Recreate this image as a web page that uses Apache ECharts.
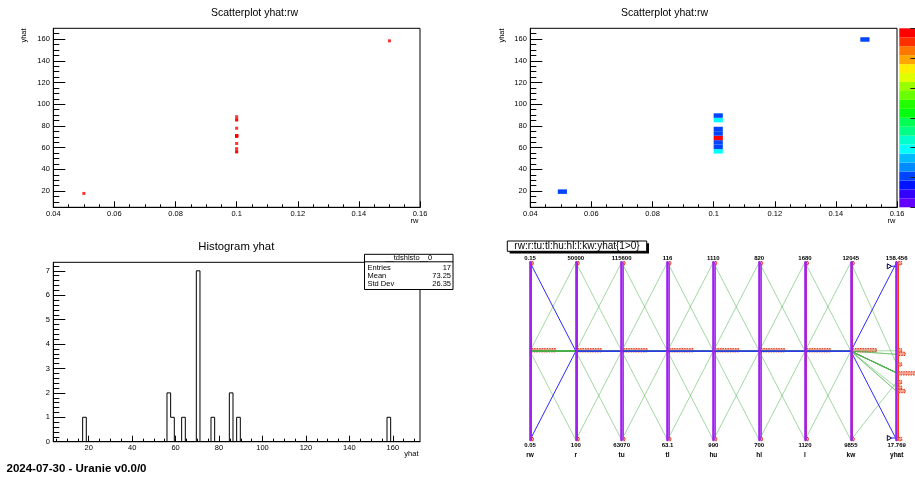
<!DOCTYPE html>
<html>
<head>
<meta charset="utf-8">
<title>Uranie plots</title>
<script src="https://cdn.jsdelivr.net/npm/echarts@6.0.0/dist/echarts.min.js"></script>
<style>
html,body{margin:0;padding:0;background:#ffffff;overflow:hidden;}
#chart{width:915px;height:485px;}
</style>
</head>
<body>
<div id="chart"></div>
<script>
// ---------------- data (one row per design point) ----------------
const varNames = ['rw', 'r', 'tu', 'tl', 'hu', 'hl', 'l', 'kw', 'yhat'];
const rw   = [0.1, 0.1, 0.1, 0.1, 0.1, 0.1, 0.1, 0.1, 0.1, 0.1, 0.1, 0.1, 0.1, 0.1, 0.1, 0.05, 0.15];
const r    = [25050, 100, 50000, 25050, 25050, 25050, 25050, 25050, 25050, 25050, 25050, 25050, 25050, 25050, 25050, 25050, 25050];
const tu   = [89335, 89335, 89335, 63070, 115600, 89335, 89335, 89335, 89335, 89335, 89335, 89335, 89335, 89335, 89335, 89335, 89335];
const tl   = [89.55, 89.55, 89.55, 89.55, 89.55, 63.1, 116, 89.55, 89.55, 89.55, 89.55, 89.55, 89.55, 89.55, 89.55, 89.55, 89.55];
const hu   = [1050, 1050, 1050, 1050, 1050, 1050, 1050, 990, 1110, 1050, 1050, 1050, 1050, 1050, 1050, 1050, 1050];
const hl   = [760, 760, 760, 760, 760, 760, 760, 760, 760, 700, 820, 760, 760, 760, 760, 760, 760];
const l    = [1400, 1400, 1400, 1400, 1400, 1400, 1400, 1400, 1400, 1400, 1400, 1120, 1680, 1400, 1400, 1400, 1400];
const kw   = [10950, 10950, 10950, 10950, 10950, 10950, 10950, 10950, 10950, 10950, 10950, 10950, 10950, 9855, 12045, 10950, 10950];
const yhat = [70.87, 71.04, 70.85, 70.87, 70.87, 70.71, 70.96, 56.2, 85.6, 85.6, 56.2, 88.47, 59.11, 63.82, 77.92, 17.769, 158.456];

// scatter plot axes
const scatXRange = [0.04, 0.16];
const scatYRange = [5, 170];
const scatXTicks = [0.04, 0.06, 0.08, 0.1, 0.12, 0.14, 0.16];
const scatYTicks = [20, 40, 60, 80, 100, 120, 140, 160];

// 2D histogram (COLZ) non-empty cells: lower-left corner and entries
const cellX     = [0.049, 0.1, 0.1, 0.1, 0.1, 0.1, 0.1, 0.1, 0.1, 0.148];
const cellY     = [17.375, 54.5, 58.625, 62.75, 66.875, 71.0, 75.125, 83.375, 87.5, 157.625];
const cellCount = [1, 2, 1, 1, 6, 1, 1, 2, 1, 1];
const cellW = 0.003, cellH = 4.125;
const zMax = 6;
const paletteColors = ['#6300ff', '#3300ff', '#0014ff', '#0044ff', '#008bff', '#00bbff', '#00fffc', '#00ffcc', '#00ff85', '#00ff55',
                       '#00ff0e', '#22ff00', '#69ff00', '#99ff00', '#e0ff00', '#ffee00', '#ffa700', '#ff7700', '#ff3000', '#ff0000'];

// 1D histogram of yhat: non-empty bins (lower edge, entries)
const histLow   = [17.21, 56.04, 57.72, 62.79, 69.54, 76.30, 84.74, 88.11, 157.33];
const histCount = [1, 2, 1, 1, 7, 1, 2, 1, 1];
const histBinWidth = 1.688;
const histRange = [3.70, 172.52];
const histYMax = 7.35;
const histXTicks = [20, 40, 60, 80, 100, 120, 140, 160];
const histYTicks = [0, 1, 2, 3, 4, 5, 6, 7];
const statsTitle = '__tdshisto__0';
const statsLabels = ['Entries', 'Mean', 'Std Dev'];
const statsValues = ['17', '73.25', '26.35'];

const parTitle = 'rw:r:tu:tl:hu:hl:l:kw:yhat{1>0}';
const footer = '2024-07-30 - Uranie v0.0/0';

// ---------------- helpers ----------------
const FONT = '"Liberation Sans", Arial, Helvetica, sans-serif';
function seq(a, b, step) { const out = []; for (let v = a; v <= b + 1e-9; v += step) out.push(+v.toFixed(6)); return out; }

const columns = [rw, r, tu, tl, hu, hl, l, kw, yhat];
const mins = columns.map(c => Math.min(...c));
const maxs = columns.map(c => Math.max(...c));
const rows = yhat.map((_, i) => columns.map(c => c[i]));

// layout
const P1  = {left: 53.3, top: 28.3, width: 366.7, height: 179};
const P2  = {left: 530.3, top: 28.3, width: 366.7, height: 179};
const PAL = {left: 899.3, top: 28.3, width: 16, height: 179};
const P3  = {left: 53.3, top: 262.3, width: 366.7, height: 179.4};
const PAR = {left: 530, top: 262.3, width: 366.7, height: 177.7};

function gridOf(p, show) {
  return {left: p.left, top: p.top, width: p.width, height: p.height, show: !!show,
          borderColor: '#000', borderWidth: 1, backgroundColor: 'transparent',
          containLabel: false, outerBoundsMode: 'none'};
}
function mainX(gi, range, ticks, name, namePad) {
  return {type: 'value', gridIndex: gi, min: range[0], max: range[1], position: 'bottom',
    axisLine: {show: true, onZero: false, lineStyle: {color: '#000', width: 1}},
    axisTick: {show: true, inside: true, length: 6, customValues: ticks, lineStyle: {color: '#000', width: 1}},
    axisLabel: {show: true, customValues: ticks, margin: 2.5, fontSize: 7.5, color: '#000', fontFamily: FONT},
    splitLine: {show: false},
    name: name, nameLocation: 'end', nameGap: -1.5, nameMoveOverlap: false,
    nameTextStyle: {fontSize: 7.5, color: '#000', fontFamily: FONT, align: 'right', verticalAlign: 'top', padding: [namePad, 0, 0, 0]}};
}
function minorX(gi, range, ticks) {
  return {type: 'value', gridIndex: gi, min: range[0], max: range[1], position: 'bottom',
    axisLine: {show: false, onZero: false}, axisLabel: {show: false}, splitLine: {show: false},
    axisTick: {show: true, inside: true, length: 3, customValues: ticks, lineStyle: {color: '#000', width: 1}}};
}
function mainY(gi, range, ticks) {
  return {type: 'value', gridIndex: gi, min: range[0], max: range[1], position: 'left',
    axisLine: {show: true, onZero: false, lineStyle: {color: '#000', width: 1}},
    axisTick: {show: true, inside: true, length: 12, customValues: ticks, lineStyle: {color: '#000', width: 1}},
    axisLabel: {show: true, customValues: ticks, margin: 3.5, fontSize: 7.5, color: '#000', fontFamily: FONT},
    splitLine: {show: false}};
}
function minorY(gi, range, ticks) {
  return {type: 'value', gridIndex: gi, min: range[0], max: range[1], position: 'left',
    axisLine: {show: false, onZero: false}, axisLabel: {show: false}, splitLine: {show: false},
    axisTick: {show: true, inside: true, length: 6, customValues: ticks, lineStyle: {color: '#000', width: 1}}};
}

// histogram outline (ROOT style step line)
const histLine = [[histRange[0], 0]];
for (let i = 0; i < histLow.length; i++) {
  const lo = histLow[i], hi = lo + histBinWidth;
  histLine.push([lo, histCount[i]]);
  const next = histLow[i + 1];
  if (next === undefined || next - hi > 0.02) histLine.push([hi, 0]);
}
histLine.push([histRange[1], 0]);

// per-axis distribution bars for the parallel plot
const nAxisBins = 100;
const axisHists = columns.map((c, d) => {
  const cnt = new Array(nAxisBins).fill(0);
  c.forEach(v => {
    let b = Math.floor((v - mins[d]) / (maxs[d] - mins[d]) * nAxisBins + 1e-7);
    if (b >= nAxisBins) b = nAxisBins - 1;
    cnt[b]++;
  });
  const out = [];
  cnt.forEach((n, b) => { if (n > 0) out.push([n, mins[d] + (b + 0.5) * (maxs[d] - mins[d]) / nAxisBins]); });
  return out;
});
const axisHistMax = axisHists.map(h => Math.max(...h.map(p => p[0])));

// ---------------- option ----------------
const grids = [gridOf(P1, true), gridOf(P2, true), gridOf(PAL, false), gridOf(P3, true)];
const xAxes = [
  mainX(0, scatXRange, scatXTicks, 'rw', 10), minorX(0, scatXRange, seq(0.04, 0.16, 0.005)),
  mainX(1, scatXRange, scatXTicks, 'rw', 10), minorX(1, scatXRange, seq(0.04, 0.16, 0.005)),
  {type: 'value', gridIndex: 2, min: 0, max: 1, show: false, axisLine: {onZero: false}},
  mainX(3, histRange, histXTicks, 'yhat', 8.5), minorX(3, histRange, seq(5, 170, 5))
];
const yAxes = [
  mainY(0, scatYRange, scatYTicks), minorY(0, scatYRange, seq(10, 165, 5)),
  mainY(1, scatYRange, scatYTicks), minorY(1, scatYRange, seq(10, 165, 5)),
  {type: 'value', gridIndex: 2, min: 0, max: zMax, interval: 1, position: 'right', z: 5,
   axisLine: {show: false, onZero: false}, axisLabel: {show: false}, splitLine: {show: false},
   axisTick: {show: true, inside: true, length: 5, lineStyle: {color: '#222', width: 1}}},
  mainY(3, [0, histYMax], histYTicks), minorY(3, [0, histYMax], seq(0, 7.2, 0.2))
];

const series = [
  {type: 'scatter', xAxisIndex: 0, yAxisIndex: 0, symbol: 'rect', symbolSize: 3,
   itemStyle: {color: '#ff0000'}, data: rw.map((x, i) => [x, yhat[i]]), silent: true},
  {type: 'custom', xAxisIndex: 2, yAxisIndex: 2, encode: {x: 0, y: 1},
   data: cellX.map((x, i) => [x, cellY[i], cellCount[i]]),
   renderItem: function (params, api) {
     const x0 = api.value(0), y0 = api.value(1), n = api.value(2);
     const a = api.coord([x0, y0]), b = api.coord([x0 + cellW, y0 + cellH]);
     const k = Math.min(paletteColors.length - 1, Math.floor(n / zMax * paletteColors.length));
     return {type: 'rect', shape: {x: a[0], y: b[1], width: b[0] - a[0], height: a[1] - b[1]}, style: {fill: paletteColors[k]}};
   }},
  {type: 'custom', xAxisIndex: 4, yAxisIndex: 4, encode: {x: 0, y: 1},
   data: paletteColors.map((c, k) => [0, k * zMax / paletteColors.length, k]),
   renderItem: function (params, api) {
     const k = api.value(2), step = zMax / paletteColors.length;
     const a = api.coord([0, k * step]), b = api.coord([1, (k + 1) * step]);
     return {type: 'rect', shape: {x: a[0], y: b[1], width: b[0] - a[0], height: a[1] - b[1]}, style: {fill: paletteColors[k]}};
   }},
  {type: 'line', xAxisIndex: 5, yAxisIndex: 5, data: histLine, step: 'end', symbol: 'none', showSymbol: false,
   lineStyle: {color: '#000', width: 1}, silent: true, clip: true},
  {type: 'parallel', parallelIndex: 0, silent: true, smooth: false,
   lineStyle: {width: 1, opacity: 1},
   data: rows.map(row => {
     const sel = row[8] === mins[8] || row[8] === maxs[8];
     return {value: row, lineStyle: {color: sel ? '#2a2aff' : 'rgba(70,175,70,0.5)', width: 1, opacity: 1}};
   })}
];

// axis distribution grids
varNames.forEach((name, d) => {
  const gi = grids.length;
  grids.push({left: PAR.left + d * PAR.width / (varNames.length - 1) + 1.6, top: PAR.top, width: 24, height: PAR.height,
              show: false, containLabel: false, outerBoundsMode: 'none'});
  const ai = xAxes.length;
  xAxes.push({type: 'value', gridIndex: gi, min: 0, max: axisHistMax[d], show: false, axisLine: {onZero: false}});
  yAxes.push({type: 'value', gridIndex: gi, min: mins[d], max: maxs[d], position: 'left',
              axisLine: {show: true, onZero: false, lineStyle: {color: '#ff3a10', width: 1}},
              axisTick: {show: false}, axisLabel: {show: false}, splitLine: {show: false}});
  series.push({type: 'custom', xAxisIndex: ai, yAxisIndex: ai, encode: {x: 0, y: 1}, data: axisHists[d], silent: true,
    renderItem: function (params, api) {
      const n = api.value(0), v = api.value(1);
      const a = api.coord([0, v]), b = api.coord([n, v]);
      return {type: 'rect', shape: {x: a[0], y: a[1] - 1.6, width: Math.max(1.8, b[0] - a[0]), height: 3.2},
              style: {fill: '#f5a898', stroke: '#e02a08', lineWidth: 1, lineDash: [1.5, 1]}};
    }});
  if (d === varNames.length - 1) {
    series.push({type: 'custom', xAxisIndex: ai, yAxisIndex: ai, encode: {x: 0, y: 1}, silent: true,
      data: [[0, mins[d]], [0, maxs[d]]],
      renderItem: function (params, api) {
        const v = api.value(1);
        const p = api.coord([0, v]);
        const y = p[1] + (v > (mins[d] + maxs[d]) / 2 ? 4 : -2);
        const x = p[0];
        return {type: 'group', children: [
          {type: 'line', shape: {x1: x - 6.6, y1: y, x2: x - 2.2, y2: y}, style: {stroke: '#2a2aff', lineWidth: 1}},
          {type: 'polygon', shape: {points: [[x - 11, y - 2.5], [x - 11, y + 2.5], [x - 6.6, y]]}, style: {fill: '#fff', stroke: '#000040', lineWidth: 1}}
        ]};
      }});
  }
});

const parallelAxis = varNames.map((name, d) => ({
  dim: d, parallelIndex: 0, type: 'value', name: name,
  min: mins[d], max: maxs[d], interval: maxs[d] - mins[d],
  nameLocation: 'start', nameGap: 11.5,
  nameTextStyle: {fontSize: 6.5, fontWeight: 'bold', color: '#000', fontFamily: FONT},
  axisLine: {show: true, lineStyle: {color: '#a020f0', width: 2.6}},
  axisTick: {show: false},
  splitLine: {show: false},
  axisLabel: {
    show: true, margin: 0, align: 'center', verticalAlign: 'middle',
    color: '#000', fontSize: 6, fontWeight: 'bold', fontFamily: FONT,
    formatter: function (v) {
      const s = String(+(+v).toPrecision(6));
      return (Math.abs(v - maxs[d]) < Math.abs(v - mins[d])) ? '{t|' + s + '}' : '{b|' + s + '}';
    },
    rich: {
      t: {fontSize: 6, fontWeight: 'bold', color: '#000', fontFamily: FONT, padding: [0, 0, 8, 0]},
      b: {fontSize: 6, fontWeight: 'bold', color: '#000', fontFamily: FONT, padding: [10, 0, 0, 0]}
    }
  }
}));

const txt = (text, x, y, size, align, extra) => Object.assign({type: 'text', x: x, y: y, silent: true, z: 100,
  style: Object.assign({text: text, fill: '#000', fontSize: size, fontFamily: FONT, align: align || 'center', verticalAlign: 'middle'}, extra || {})});
const vtxt = (text, x, y, size) => Object.assign(txt(text, x, y, size, 'center'), {rotation: Math.PI / 2});

const statsBox = {left: 364.5, top: 254.3, width: 88.5, height: 35.2};
const graphic = [
  txt('Scatterplot yhat:rw', 254.5, 13.5, 10.5),
  txt('Scatterplot yhat:rw', 664.5, 13.5, 10.5),
  txt('Histogram yhat', 236.3, 247.3, 11.3),
  vtxt('yhat', 24.3, 35.5, 7.5),
  vtxt('yhat', 501.5, 35.5, 7.5),
  {type: 'rect', z: 99, silent: true, shape: {x: statsBox.left, y: statsBox.top, width: statsBox.width, height: statsBox.height},
   style: {fill: '#fff', stroke: '#000', lineWidth: 1}},
  {type: 'line', z: 100, silent: true, shape: {x1: statsBox.left, y1: 261.8, x2: statsBox.left + statsBox.width, y2: 261.8},
   style: {stroke: '#000', lineWidth: 1}},
  txt(statsTitle, statsBox.left + statsBox.width / 2, 258.2, 7.5),
  ...statsLabels.map((s, i) => txt(s, 367.5, 268.3 + i * 7.6, 7.5, 'left')),
  ...statsValues.map((s, i) => txt(s, 451, 268.3 + i * 7.6, 7.5, 'right')),
  {type: 'rect', z: 98, silent: true, shape: {x: 509.6, y: 243.3, width: 139.4, height: 10.3}, style: {fill: '#000'}},
  {type: 'rect', z: 99, silent: true, shape: {x: 507.3, y: 241, width: 139.4, height: 10.3}, style: {fill: '#fff', stroke: '#000', lineWidth: 1}},
  txt(parTitle, 577, 246.3, 10),
  txt(footer, 6.5, 469, 11.5, 'left', {fontWeight: 'bold'})
];

const option = {
  animation: false,
  backgroundColor: '#ffffff',
  textStyle: {fontFamily: FONT},
  grid: grids,
  xAxis: xAxes,
  yAxis: yAxes,
  parallel: {left: PAR.left, top: PAR.top, width: PAR.width, height: PAR.height, layout: 'horizontal'},
  parallelAxis: parallelAxis,
  series: series,
  graphic: graphic
};

const chart = echarts.init(document.getElementById('chart'), null, {renderer: 'canvas', width: 915, height: 485});
chart.setOption(option);
</script>
</body>
</html>
